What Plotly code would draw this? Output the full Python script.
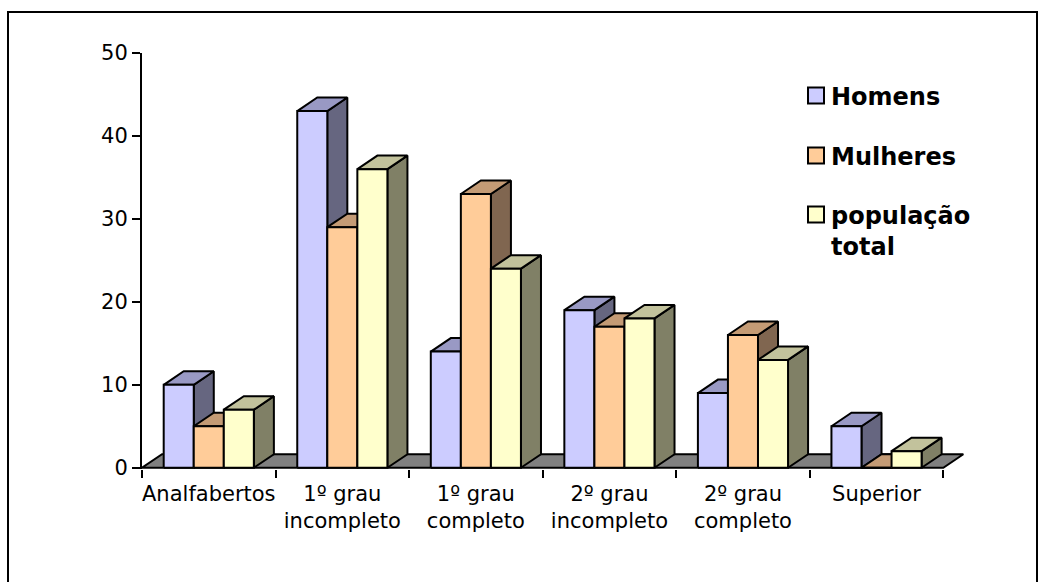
import plotly.graph_objects as go

# Escolaridade por sexo (%)
categories = ["Analfabertos", "1º grau<br>incompleto", "1º grau<br>completo",
              "2º grau<br>incompleto", "2º grau<br>completo", "Superior"]
homens = [10, 43, 14, 19, 9, 5]
mulheres = [5, 29, 33, 17, 16, 0]
populacao = [7, 36, 24, 18, 13, 2]

series = [
    ("Homens", homens, "#CCCCFF", "#9999C4", "#666680"),
    ("Mulheres", mulheres, "#FFCC99", "#C49B75", "#806650"),
    ("população<br>total", populacao, "#FFFFCC", "#C2C29C", "#808066"),
]

# pseudo-3D geometry (data units)
BAR_W = 0.225
DX = 0.15
DY = 1.63
N = len(categories)
FONT = "DejaVu Sans, Arial, sans-serif"

# page layout (pixels)
W, H = 1048, 582
ML, MR, MT, MB = 142, 78, 53, 113
PW, PH = W - ML - MR, H - MT - MB


def px(x):
    return (x - ML) / PW


def py(y):
    return (H - MB - y) / PH


fig = go.Figure()


def poly(xs, ys, fill, width=2):
    fig.add_trace(go.Scatter(
        x=xs + [xs[0]], y=ys + [ys[0]], mode="lines", fill="toself",
        fillcolor=fill, line=dict(color="black", width=width),
        hoverinfo="skip", showlegend=False))


# floor
poly([-0.5, N - 0.5, N - 0.5 + DX, -0.5 + DX], [0, 0, DY, DY], "#808080")

# bars: side, top, front — drawn series by series so that each bar hides the
# side of its left neighbour
for k, (name, vals, front, top, side) in enumerate(series):
    for i, v in enumerate(vals):
        x0 = i - 1.5 * BAR_W + k * BAR_W
        x1 = x0 + BAR_W
        poly([x1, x1 + DX, x1 + DX, x1], [0, DY, v + DY, v], side)
        poly([x0, x1, x1 + DX, x0 + DX], [v, v, v + DY, v + DY], top)
        poly([x0, x1, x1, x0], [0, 0, v, v], front)

# legend: swatch + bold label per series
shapes = []
annotations = []
legend_rows = [95.5, 155.5, 214.5]
for (name, vals, front, top, side), yc in zip(series, legend_rows):
    shapes.append(dict(type="rect", xref="paper", yref="paper",
                       x0=px(808), x1=px(824), y0=py(yc + 8), y1=py(yc - 8),
                       fillcolor=front, line=dict(color="black", width=2)))
    annotations.append(dict(xref="paper", yref="paper", x=px(829),
                            y=py(yc - 15), xanchor="left", yanchor="top",
                            text="<b>%s</b>" % name, showarrow=False,
                            align="left",
                            font=dict(family=FONT, size=24, color="black")))

# chart frame
shapes.append(dict(type="rect", xref="paper", yref="paper",
                   x0=px(8), x1=px(1037), y0=py(640), y1=py(12),
                   line=dict(color="black", width=2),
                   fillcolor="rgba(0,0,0,0)"))

fig.update_layout(
    width=W, height=H,
    margin=dict(l=ML, r=MR, t=MT, b=MB),
    paper_bgcolor="white", plot_bgcolor="white",
    font=dict(family=FONT, size=21, color="black"),
    showlegend=False,
    xaxis=dict(range=[-0.5, N - 0.5 + 0.2], tickmode="array",
               tickvals=list(range(N)), ticktext=categories, ticks="",
               showline=False, showgrid=False, zeroline=False,
               ticklabelstandoff=10,
               minor=dict(tick0=-0.5, dtick=1, ticks="outside", ticklen=8,
                          tickwidth=2, tickcolor="black")),
    yaxis=dict(range=[-0.15, 50], tickmode="array",
               tickvals=[0, 10, 20, 30, 40, 50], ticks="outside", ticklen=8,
               tickwidth=2, tickcolor="black", showline=True, linewidth=2,
               linecolor="black", showgrid=False, zeroline=False),
    shapes=shapes,
    annotations=annotations,
)

fig.write_html("out.html")
